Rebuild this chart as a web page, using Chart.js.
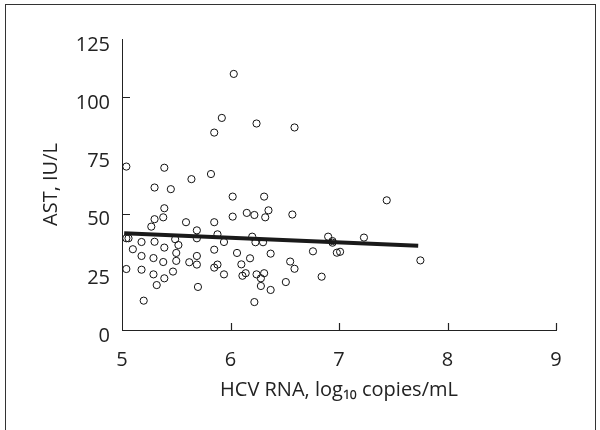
<!DOCTYPE html>
<html>
<head>
<meta charset="utf-8">
<script src="https://cdn.jsdelivr.net/npm/chart.js@4"></script>
<style>
  body { margin: 0; background: #fff; }
  #wrap { position: relative; width: 600px; height: 430px; }
  #frame { position: absolute; left: 5px; top: 4px; width: 591px; height: 430px;
           border: 1px solid #333; border-bottom: none; box-sizing: border-box; }
  canvas { position: absolute; left: 0; top: 0; }
</style>
</head>
<body>
<div id="wrap">
  <div id="frame"></div>
  <canvas id="chart" width="600" height="430"></canvas>
</div>
<script>
// HCV RNA (log10 copies/mL) vs AST (IU/L)
const hcvRna = [
  6.03, 5.92, 5.85, 6.24, 6.59, 5.04, 5.39, 5.64, 5.82, 5.30,
  5.45, 6.02, 6.31, 5.39, 5.30, 5.38, 6.02, 6.15, 6.22, 6.35,
  6.32, 6.57, 5.59, 5.85, 5.27, 5.69, 5.88, 5.69, 5.94, 6.20,
  6.23, 6.30, 5.04, 5.06, 5.18, 5.30, 5.49, 5.52, 5.39, 5.10,
  5.18, 5.29, 5.38, 5.50, 5.50, 5.47, 5.29, 5.39, 5.32, 5.20,
  5.04, 5.18, 5.62, 5.69, 5.69, 5.70, 5.85, 5.85, 5.88, 5.94,
  6.06, 6.10, 6.14, 6.11, 6.18, 6.24, 6.31, 6.28, 6.28, 6.22,
  6.37, 6.37, 6.51, 6.55, 6.59, 6.76, 6.84, 6.90, 6.94, 6.94,
  6.98, 7.01, 7.23, 7.44, 7.75
]
const ast = [
  110.0, 91.1, 84.8, 88.7, 87.0, 70.2, 69.7, 64.8, 67.0, 61.2,
  60.5, 57.3, 57.3, 52.3, 47.6, 48.4, 48.7, 50.3, 49.4, 51.4,
  48.4, 49.6, 46.3, 46.3, 44.4, 42.8, 41.1, 39.4, 37.8, 40.1,
  37.7, 37.7, 39.4, 39.4, 37.8, 37.9, 39.0, 36.5, 35.4, 34.7,
  31.8, 30.9, 29.2, 33.1, 29.7, 25.1, 23.9, 22.2, 19.3, 12.6,
  26.2, 25.9, 29.1, 31.8, 28.1, 18.5, 34.5, 26.8, 28.1, 23.9,
  33.1, 28.2, 24.4, 23.3, 30.8, 23.9, 24.4, 22.2, 18.9, 12.0,
  32.8, 17.2, 20.6, 29.4, 26.3, 33.8, 22.9, 40.1, 38.2, 37.5,
  33.2, 33.6, 39.7, 55.7, 29.9
]
// regression line end points
const fitX = [5.02, 7.73]
const fitY = [41.6, 36.2]

const xTicks = [5, 6, 7, 8, 9]
const yTicks = [0, 25, 50, 75, 100, 125]

const ink = '#222'
const font = { family: "'Open Sans', 'Noto Sans', sans-serif", size: 20 }

// ticks drawn inward, as in the figure (y only every 50)
const innerTicks = {
  id: 'innerTicks',
  afterDraw (chart) {
    const { ctx, scales: { x, y } } = chart
    ctx.save()
    ctx.strokeStyle = ink
    ctx.lineWidth = 1.2
    ctx.beginPath()
    x.ticks.forEach(t => {
      if (t.value === x.min) return
      const px = Math.round(x.getPixelForValue(t.value)) + 0.5
      ctx.moveTo(px, y.bottom)
      ctx.lineTo(px, y.bottom - 7)
    })
    y.ticks.forEach(t => {
      if (t.value === 0 || t.value % 50 !== 0) return
      const py = Math.round(y.getPixelForValue(t.value)) + 0.5
      ctx.moveTo(x.left, py)
      ctx.lineTo(x.left + 8, py)
    })
    ctx.stroke()
    ctx.restore()
  }
}

new Chart(document.getElementById('chart'), {
  type: 'scatter',
  data: {
    datasets: [
      {
        type: 'line',
        data: fitX.map((v, i) => ({ x: v, y: fitY[i] })),
        borderColor: '#1a1a1a',
        borderWidth: 4,
        pointRadius: 0,
        order: 0
      },
      {
        data: hcvRna.map((v, i) => ({ x: v, y: ast[i] })),
        pointRadius: 3.6,
        pointBorderWidth: 1,
        borderColor: '#111',
        backgroundColor: 'rgba(0,0,0,0)',
        order: 1
      }
    ]
  },
  options: {
    responsive: false,
    animation: false,
    layout: { padding: { left: 0, right: 44, top: 39, bottom: 0 } },
    plugins: { legend: { display: false }, tooltip: { enabled: false } },
    scales: {
      x: {
        type: 'linear',
        min: 5,
        max: 9,
        afterFit: s => { s.height = 100 },
        afterBuildTicks: s => { s.ticks = xTicks.map(v => ({ value: v })) },
        grid: { display: false, drawTicks: false },
        border: { color: ink, width: 1 },
        ticks: { color: ink, font, padding: 18 },
        title: {
          display: true,
          text: 'HCV RNA, log₁₀ copies/mL',
          color: ink,
          font,
          padding: { top: 0, bottom: 28 }
        }
      },
      y: {
        min: 0,
        max: 125,
        afterFit: s => { s.width = 122 },
        afterBuildTicks: s => { s.ticks = yTicks.map(v => ({ value: v })) },
        grid: { display: false, drawTicks: false },
        border: { color: ink, width: 1 },
        ticks: { color: ink, font, padding: 12, labelOffset: 6 },
        title: {
          display: true,
          text: 'AST, IU/L',
          color: ink,
          font,
          padding: { top: 39, bottom: 0 }
        }
      }
    }
  },
  plugins: [innerTicks]
})
</script>
</body>
</html>
